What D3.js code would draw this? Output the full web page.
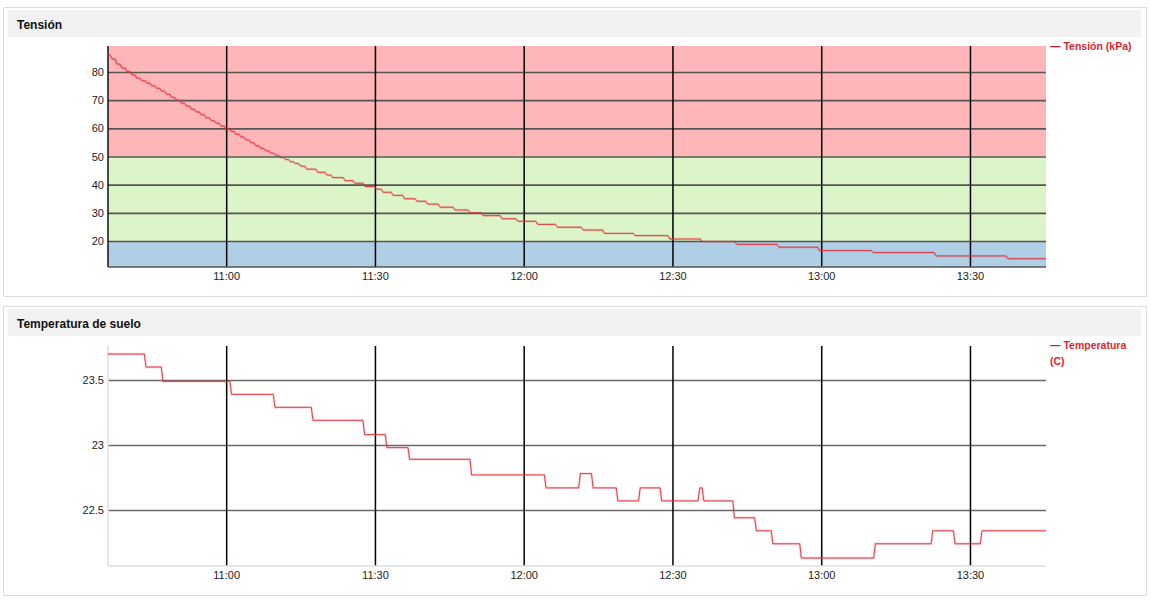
<!DOCTYPE html>
<html>
<head>
<meta charset="utf-8">
<script src="https://cdn.jsdelivr.net/npm/d3@7"></script>
<style>
  html, body { margin: 0; padding: 0; background: #fff; }
  svg { display: block; font-family: "Liberation Sans", Arial, Helvetica, sans-serif; }
</style>
</head>
<body>
<svg id="chart" width="1151" height="603"></svg>
<script>
// ---------------- DATA ----------------
const tensionTimes = [
  "10:36:10","10:37:00","10:38:00","10:39:00","10:40:00","10:41:00","10:42:00","10:43:00",
  "10:44:00","10:45:00","10:46:00","10:47:00","10:48:00","10:49:00","10:50:00","10:51:00",
  "10:52:00","10:53:00","10:54:00","10:55:00","10:56:00","10:57:00","10:58:00","10:59:00",
  "11:00:00","11:01:00","11:02:00","11:03:00","11:04:00","11:05:00","11:06:00","11:07:00",
  "11:08:00","11:09:00","11:10:00","11:11:00","11:12:00","11:13:00","11:14:00","11:15:00",
  "11:16:15","11:18:30","11:20:20","11:21:30","11:24:00","11:26:00","11:28:00","11:30:20",
  "11:31:40","11:33:40","11:36:00","11:38:30","11:40:40","11:43:10","11:46:10","11:49:10",
  "11:51:50","11:55:40","11:58:50","12:02:50","12:06:50","12:12:00","12:16:20","12:22:30",
  "12:29:30","12:36:00","12:43:00","12:51:30","12:59:40","13:10:30","13:23:10","13:37:40",
  "13:45:20"
];
const tensionValues = [
  86.0, 84.6, 82.8, 81.4, 80.1, 79.0, 77.8, 76.9,
  76.0, 75.1, 74.2, 73.2, 72.1, 71.0, 70.0, 68.9,
  67.9, 66.8, 65.8, 64.8, 63.7, 62.7, 61.8, 60.8,
  59.8, 58.9, 57.9, 56.9, 55.9, 54.9, 53.8, 52.9,
  52.0, 51.2, 50.4, 49.6, 48.9, 48.1, 47.5, 46.6,
  45.5, 44.4, 43.4, 42.5, 41.4, 40.5, 39.3, 38.4,
  37.3, 36.2, 35.0, 34.1, 33.1, 32.0, 31.0, 30.0,
  29.0, 27.9, 27.0, 25.9, 24.9, 23.9, 22.7, 21.9,
  20.7, 19.8, 18.8, 17.8, 16.6, 15.9, 14.7, 13.7,
  13.7
];
const tensionTicks = [20, 30, 40, 50, 60, 70, 80];
const tensionDomain = [10.77, 89.23];
// bands: [from, to]
const tensionBandLimits = [[50, 89.23], [20, 50], [10.77, 20]];
const tensionBandColors = ["#ffb6b9", "#dcf5c8", "#afcfe6"];

const tempTimes = [
  "10:36:10","10:43:50","10:47:15","11:01:05","11:09:50","11:17:30","11:27:55","11:32:25",
  "11:37:00","11:49:30","12:04:30","12:11:25","12:14:00","12:19:00","12:23:30","12:27:50",
  "12:35:30","12:36:20","12:42:30","12:46:55","12:50:15","12:56:00","13:10:55","13:22:30",
  "13:27:00","13:32:25","13:45:20"
];
const tempValues = [
  23.70, 23.60, 23.49, 23.39, 23.29, 23.19, 23.08, 22.98,
  22.89, 22.77, 22.67, 22.78, 22.67, 22.57, 22.67, 22.57,
  22.67, 22.57, 22.44, 22.34, 22.24, 22.13, 22.24, 22.34,
  22.24, 22.34, 22.34
];
const tempTicks = [22.5, 23, 23.5];
const tempDomain = [22.069, 23.762];

const xTickLabels = ["11:00", "11:30", "12:00", "12:30", "13:00", "13:30"];

// ---------------- DRAW ----------------
const svg = d3.select("#chart");
const parseT = d3.timeParse("%H:%M:%S");
const parseHM = d3.timeParse("%H:%M");
const lineColor = "#e2303a";
const legendColor = "#e01f2e";

// each reading holds until the next one; the sensor's change takes a short moment
function withTransitions(data, seconds) {
  const out = [];
  data.forEach((d, i) => {
    if (i > 0) {
      const prev = data[i - 1];
      const tEnd = new Date(d.t.getTime() - seconds * 1000);
      if (tEnd > prev.t) out.push({ t: tEnd, v: prev.v });
    }
    out.push(d);
  });
  return out;
}

function panel(cfg) {
  const g = svg.append("g");
  g.append("rect").attr("x", 3.5).attr("y", cfg.top + 0.5).attr("width", 1143).attr("height", 289)
    .attr("fill", "#fff").attr("stroke", "#dcdcdc");
  g.append("rect").attr("x", 8).attr("y", cfg.top + 3).attr("width", 1133).attr("height", 27)
    .attr("fill", "#f2f2f2");
  g.append("text").attr("x", 17).attr("y", cfg.top + 21.5)
    .attr("font-size", 12).attr("font-weight", "bold").attr("fill", "#111").text(cfg.title);

  const left = 108, right = 1046, pTop = cfg.plotTop, pBot = cfg.plotBottom;
  const data = cfg.times.map((t, i) => ({ t: parseT(t), v: cfg.values[i] }));
  const x = d3.scaleTime().domain(d3.extent(data, d => d.t)).range([left, right]);
  const y = d3.scaleLinear().domain(cfg.domain).range([pBot, pTop]);

  const clipId = "clip" + cfg.top;
  svg.append("clipPath").attr("id", clipId).append("rect")
    .attr("x", left).attr("y", pTop).attr("width", right - left).attr("height", pBot - pTop);

  if (cfg.bands) {
    cfg.bands.forEach((b, i) => {
      g.append("rect").attr("x", left).attr("width", right - left)
        .attr("y", y(b[1])).attr("height", y(b[0]) - y(b[1]))
        .attr("fill", cfg.bandColors[i]);
    });
  }

  const yAxis = d3.axisLeft(y).tickValues(cfg.ticks).tickSize(-(right - left)).tickPadding(4)
    .tickFormat(d => String(d));
  const ya = g.append("g").attr("transform", `translate(${left},0)`).call(yAxis);
  ya.select(".domain").remove();
  ya.selectAll(".tick line").attr("stroke", cfg.gridColor).attr("stroke-width", 1.6);
  ya.selectAll(".tick text").attr("font-size", 11).attr("fill", "#222")
    .attr("font-family", "Liberation Sans, Arial, sans-serif").attr("x", -4);

  const xTicks = xTickLabels.map(s => parseHM(s));
  const xAxis = d3.axisBottom(x).tickValues(xTicks).tickSize(-(pBot - pTop)).tickPadding(5)
    .tickFormat(d3.timeFormat("%H:%M"));
  const xa = g.append("g").attr("transform", `translate(0,${pBot})`).call(xAxis);
  xa.select(".domain").remove();
  xa.selectAll(".tick line").attr("stroke", "#000").attr("stroke-width", 1.5);
  xa.selectAll(".tick text").attr("font-size", 11).attr("fill", "#222")
    .attr("font-family", "Liberation Sans, Arial, sans-serif");

  g.append("line").attr("x1", left).attr("x2", left).attr("y1", pTop).attr("y2", pBot)
    .attr("stroke", cfg.leftAxisColor).attr("stroke-width", 1.5);
  g.append("line").attr("x1", left).attr("x2", right).attr("y1", pBot).attr("y2", pBot)
    .attr("stroke", cfg.bottomAxisColor).attr("stroke-width", 1.6);

  const pts = withTransitions(data, cfg.transition);
  const line = d3.line().x(d => x(d.t)).y(d => y(d.v)).curve(d3.curveLinear);
  g.append("path").datum(pts).attr("clip-path", `url(#${clipId})`)
    .attr("fill", "none").attr("stroke", lineColor).attr("stroke-opacity", 0.22)
    .attr("stroke-width", 2.4).attr("d", line);
  g.append("path").datum(pts).attr("clip-path", `url(#${clipId})`)
    .attr("fill", "none").attr("stroke", lineColor).attr("stroke-width", 0.9).attr("d", line);

  const lg = g.append("text").attr("x", 1050).attr("y", cfg.top + 42.5)
    .attr("font-size", 10.5).attr("font-weight", "bold").attr("fill", legendColor);
  cfg.legend.forEach((l, i) => {
    lg.append("tspan").attr("x", 1050).attr("dy", i === 0 ? 0 : 16).text(l);
  });
}

panel({
  top: 7, title: "Tensión", plotTop: 46, plotBottom: 267,
  times: tensionTimes, values: tensionValues, domain: tensionDomain, ticks: tensionTicks,
  bands: tensionBandLimits, bandColors: tensionBandColors, transition: 25,
  gridColor: "#555", leftAxisColor: "#111", bottomAxisColor: "#555",
  legend: ["— Tensión (kPa)"]
});

panel({
  top: 306, title: "Temperatura de suelo", plotTop: 346, plotBottom: 566,
  times: tempTimes, values: tempValues, domain: tempDomain, ticks: tempTicks,
  bands: null, bandColors: null, transition: 20,
  gridColor: "#6a6a6a", leftAxisColor: "#dedede", bottomAxisColor: "#dedede",
  legend: ["— Temperatura", "(C)"]
});
</script>
</body>
</html>
